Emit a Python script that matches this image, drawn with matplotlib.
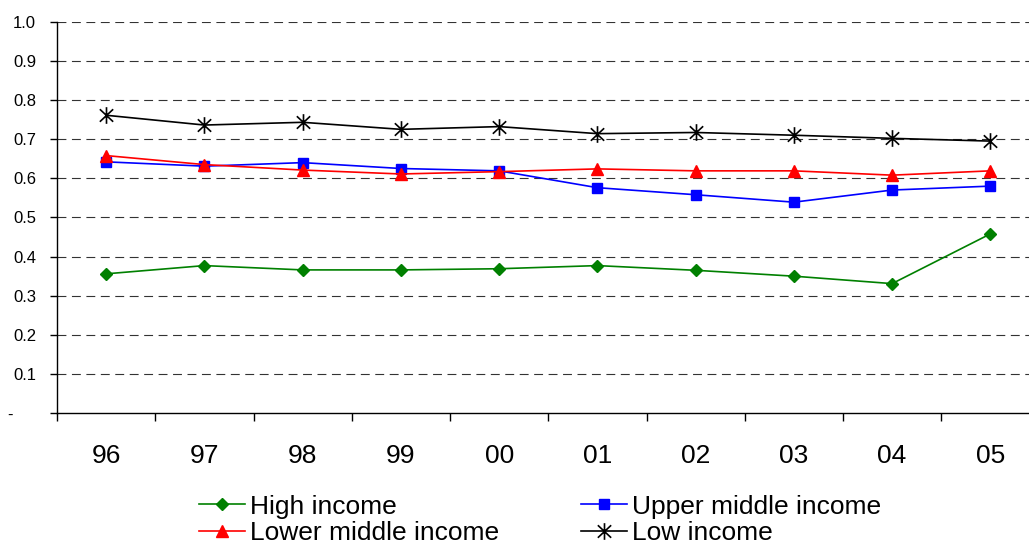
import numpy as np
import matplotlib.pyplot as plt
from matplotlib.path import Path

plt.rcParams['font.family'] = ['Liberation Sans', 'DejaVu Sans']

years = ['96', '97', '98', '99', '00', '01', '02', '03', '04', '05']
high = [0.356, 0.377, 0.366, 0.366, 0.369, 0.377, 0.365, 0.350, 0.331, 0.458]
upper_mid = [0.642, 0.631, 0.640, 0.625, 0.619, 0.576, 0.558, 0.539, 0.570, 0.580]
lower_mid = [0.658, 0.635, 0.621, 0.611, 0.617, 0.624, 0.619, 0.619, 0.608, 0.619]
low = [0.761, 0.736, 0.743, 0.725, 0.732, 0.714, 0.717, 0.710, 0.702, 0.695]
yticks = [0, 0.1, 0.2, 0.3, 0.4, 0.5, 0.6, 0.7, 0.8, 0.9, 1.0]
ylabels = ['-     '] + ['%.1f' % v for v in yticks[1:]]

# asterisk marker: vertical bar plus an X
star = Path([(0, -1), (0, 1), (-0.8, -0.75), (0.8, 0.75), (-0.8, 0.75), (0.8, -0.75)],
            [Path.MOVETO, Path.LINETO, Path.MOVETO, Path.LINETO, Path.MOVETO, Path.LINETO])

fig = plt.figure(figsize=(10.29, 5.46), dpi=100)
ax = fig.add_axes([0.0554, 0.2432, 0.9548, 0.7171])

x = np.arange(len(years))
l1, = ax.plot(x, high, color='#008000', marker='D', ms=6.5, lw=1.2, label='High income')
l2, = ax.plot(x, upper_mid, color='#0000ff', marker='s', ms=6.5, lw=1.2, label='Upper middle income')
l3, = ax.plot(x, lower_mid, color='#ff0000', marker='^', ms=8, lw=1.2, label='Lower middle income')
l4, = ax.plot(x, low, color='black', marker=star, ms=12, mew=1.2, lw=1.2, label='Low income')

ax.set_xlim(-0.5, 9.5)
ax.set_ylim(0, 1.0)
ax.set_yticks(yticks)
ax.set_yticklabels(ylabels, fontsize=12)
ax.set_xticks(x)
ax.set_xticklabels(years, fontsize=19)
ax.set_xticks(np.arange(-0.5, 10, 1), minor=True)
ax.tick_params(axis='x', which='major', length=0, pad=22)
ax.tick_params(axis='x', which='minor', length=6, width=1, direction='out')
ax.tick_params(axis='y', length=5, width=1, direction='out', pad=10)

for v in yticks[1:]:
    ax.axhline(v, color='#333333', lw=0.8, linestyle=(0, (8, 5)), zorder=0)

ax.spines['top'].set_visible(False)
ax.spines['right'].set_visible(False)
ax.spines['left'].set_linewidth(1)
ax.spines['bottom'].set_linewidth(1)

fig.legend([l1, l3, l2, l4], [l.get_label() for l in (l1, l3, l2, l4)],
           loc='upper left', bbox_to_anchor=(0.193, 0.094), ncol=2, frameon=False,
           fontsize=19, handlelength=1.75, handletextpad=0.2, columnspacing=3.1,
           labelspacing=0.08, borderpad=0, borderaxespad=0)

fig.savefig('out.png', dpi=100)
